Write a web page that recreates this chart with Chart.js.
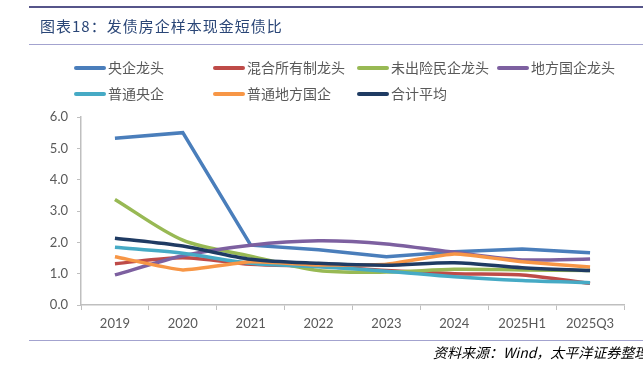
<!DOCTYPE html>
<html>
<head>
<meta charset="utf-8">
<script src="https://cdn.jsdelivr.net/npm/chart.js@4"></script>
<style>
	body { margin: 0; background: #fff; }
	#wrap { position: relative; width: 643px; height: 370px; overflow: hidden; font-family: "Noto Sans CJK SC", sans-serif; }
	#chart { position: absolute; left: 0; top: 0; }
	.rule { position: absolute; left: 29px; right: 0; }
	#title { position: absolute; left: 40px; top: 15px; font-size: 15px; color: #2a4677; letter-spacing: 1px; white-space: nowrap; }
	#legend { position: absolute; left: 0; top: 0; }
	.item { position: absolute; font-size: 14px; color: #595959; white-space: nowrap; line-height: 18px; }
	.item span { display: inline-block; width: 32px; height: 4px; border-radius: 2px; vertical-align: middle; margin-right: 2px; position: relative; top: -1px; }
	#source { position: absolute; left: 433px; top: 342px; font-size: 14px; font-style: italic; color: #000; white-space: nowrap; }
</style>
</head>
<body>
<div id="wrap">
	<canvas id="chart" width="643" height="370"></canvas>
	<div class="rule" style="top:6px;height:2px;background:#56558a;"></div>
	<div id="title">图表18：发债房企样本现金短债比</div>
	<div class="rule" style="top:44px;height:1px;background:#a3a3cf;"></div>
	<div id="legend"></div>
	<div class="rule" style="top:340px;height:1px;background:#a3a3cf;"></div>
	<div id="source">资料来源：Wind，太平洋证券整理</div>
</div>
<script>
let categories = ["2019", "2020", "2021", "2022", "2023", "2024", "2025H1", "2025Q3"];

let yangqiLongtou = [5.32, 5.50, 1.91, 1.76, 1.54, 1.70, 1.79, 1.67];
let hunheLongtou = [1.32, 1.51, 1.30, 1.24, 1.10, 1.00, 0.96, 0.69];
let minqiLongtou = [3.37, 2.07, 1.56, 1.10, 1.05, 1.14, 1.12, 1.10];
let difangLongtou = [0.96, 1.57, 1.91, 2.05, 1.95, 1.68, 1.44, 1.47];
let putongYangqi = [1.84, 1.65, 1.33, 1.22, 1.08, 0.90, 0.78, 0.71];
let putongDifang = [1.54, 1.12, 1.38, 1.28, 1.30, 1.63, 1.38, 1.21];
let heji = [2.13, 1.88, 1.46, 1.33, 1.27, 1.35, 1.19, 1.10];

let yTicks = [0, 1, 2, 3, 4, 5, 6];

let series = [
	{ label: "央企龙头", data: yangqiLongtou, color: "#4a7ebb", tension: 0 },
	{ label: "混合所有制龙头", data: hunheLongtou, color: "#be4b48", tension: 0.3 },
	{ label: "未出险民企龙头", data: minqiLongtou, color: "#98b954", tension: 0.3 },
	{ label: "地方国企龙头", data: difangLongtou, color: "#7d60a0", tension: 0.25 },
	{ label: "普通央企", data: putongYangqi, color: "#46aac5", tension: 0.3 },
	{ label: "普通地方国企", data: putongDifang, color: "#f79646", tension: 0.15 },
	{ label: "合计平均", data: heji, color: "#1f3b63", tension: 0.3 }
];

// legend laid out on a grid like the original
let legendPos = [[74, 58], [213, 58], [357, 58], [497, 58], [74, 84], [213, 84], [357, 84]];
let legend = document.getElementById("legend");
series.forEach((s, i) => {
	let d = document.createElement("div");
	d.className = "item";
	d.style.left = legendPos[i][0] + "px";
	d.style.top = legendPos[i][1] + "px";
	d.innerHTML = '<span style="background:' + s.color + '"></span>' + s.label;
	legend.appendChild(d);
});

let ctx = document.getElementById("chart").getContext("2d");
window.chart = new Chart(ctx, {
	type: "line",
	data: {
		labels: categories,
		datasets: series.map((s, i) => ({
			label: s.label,
			data: s.data,
			borderColor: s.color,
			backgroundColor: s.color,
			borderWidth: 3.5,
			pointRadius: 0,
			tension: s.tension,
			fill: false,
			order: series.length - i
		}))
	},
	options: {
		responsive: false,
		animation: false,
		devicePixelRatio: 1,
		layout: { padding: { left: 0, right: 19, top: 117, bottom: 0 } },
		plugins: {
			legend: { display: false },
			tooltip: { enabled: false }
		},
		scales: {
			x: {
				offset: true,
				grid: { drawOnChartArea: false, drawTicks: true, tickLength: 5, color: "#bfbfbf", offset: true },
				border: { color: "#bfbfbf", width: 1.5 },
				ticks: { color: "#595959", font: { family: "Lato", size: 13 }, padding: 6, maxRotation: 0 },
				afterFit: s => { s.height = 65; }
			},
			y: {
				min: 0,
				max: 6,
				afterBuildTicks: s => { s.ticks = yTicks.map(v => ({ value: v })); },
				grid: { drawOnChartArea: false, drawTicks: true, tickLength: 4, color: "#bfbfbf" },
				border: { color: "#bfbfbf", width: 1.5 },
				ticks: { color: "#595959", font: { family: "Lato", size: 13 }, padding: 9, callback: v => v.toFixed(1) },
				afterFit: s => { s.width = 81; }
			}
		}
	}
});
</script>
</body>
</html>
